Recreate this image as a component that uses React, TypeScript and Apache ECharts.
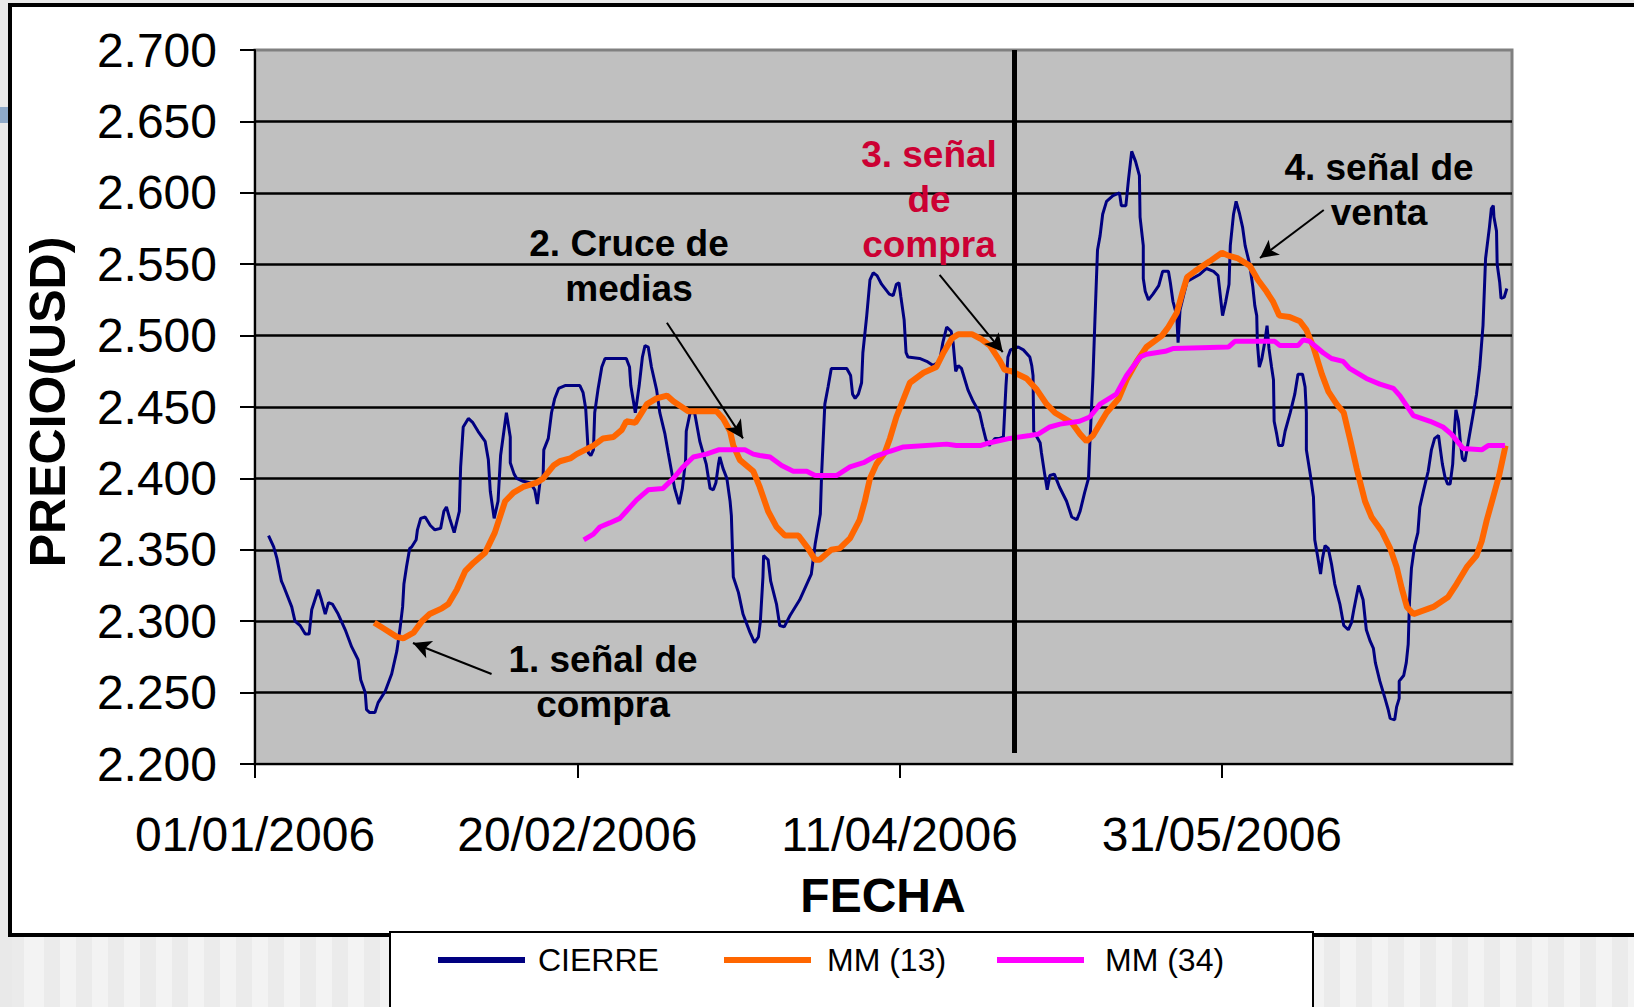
import React, { useEffect, useRef } from "react";
import * as echarts from "echarts";

// x = days since 01/01/2006, y = price (USD)
const cierre: [number, number][] = [
  [2.1, 2.36], [2.9, 2.352], [3.4, 2.344], [4.1, 2.328], [4.4, 2.325], [5.7, 2.31], [6.2, 2.3], [7.0, 2.297],
  [7.8, 2.291], [8.4, 2.291], [8.8, 2.308], [9.3, 2.315], [9.8, 2.322], [10.3, 2.315], [10.9, 2.305], [11.4, 2.313],
  [12.0, 2.312], [12.9, 2.305], [14.0, 2.294], [15.0, 2.282], [16.0, 2.273], [16.4, 2.259], [17.1, 2.25], [17.3, 2.238],
  [17.8, 2.236], [18.6, 2.236], [19.1, 2.243], [20.2, 2.251], [21.2, 2.263], [22.0, 2.279], [22.5, 2.295], [22.9, 2.31],
  [23.1, 2.326], [23.5, 2.338], [24.0, 2.351], [24.3, 2.352], [25.0, 2.357], [25.2, 2.364], [25.7, 2.372], [26.4, 2.373],
  [27.2, 2.367], [27.9, 2.364], [28.8, 2.365], [29.3, 2.377], [29.7, 2.38], [30.2, 2.372], [30.9, 2.362], [31.7, 2.377],
  [31.9, 2.408], [32.3, 2.436], [33.1, 2.442], [33.8, 2.439], [34.6, 2.433], [35.7, 2.426], [36.2, 2.413], [36.5, 2.391],
  [37.1, 2.372], [37.7, 2.384], [38.1, 2.416], [39.0, 2.446], [39.6, 2.429], [39.6, 2.411], [40.2, 2.403], [40.6, 2.4],
  [41.6, 2.398], [42.7, 2.397], [43.4, 2.392], [43.8, 2.382], [44.2, 2.397], [44.7, 2.402], [44.8, 2.42], [45.5, 2.428],
  [46.0, 2.446], [46.5, 2.456], [47.1, 2.463], [48.1, 2.465], [50.4, 2.465], [50.9, 2.46], [51.3, 2.449], [51.7, 2.418],
  [52.1, 2.416], [52.5, 2.42], [52.7, 2.446], [53.2, 2.462], [53.8, 2.478], [54.3, 2.484], [57.6, 2.484], [58.1, 2.478],
  [58.3, 2.465], [59.0, 2.446], [59.6, 2.465], [60.1, 2.485], [60.5, 2.493], [61.0, 2.492], [61.5, 2.478], [62.3, 2.462],
  [62.8, 2.446], [63.6, 2.431], [64.1, 2.418], [65.1, 2.393], [65.8, 2.382], [66.3, 2.393], [66.8, 2.413], [66.9, 2.433],
  [67.5, 2.446], [68.2, 2.446], [69.0, 2.426], [70.0, 2.41], [70.6, 2.393], [71.1, 2.392], [71.5, 2.397], [71.9, 2.41],
  [72.1, 2.415], [72.6, 2.407], [73.2, 2.4], [73.7, 2.384], [73.9, 2.374], [74.2, 2.331], [75.0, 2.32], [75.7, 2.305],
  [76.8, 2.292], [77.5, 2.285], [78.1, 2.289], [78.4, 2.3], [78.8, 2.331], [78.9, 2.346], [79.6, 2.343], [80.0, 2.328],
  [80.9, 2.312], [81.4, 2.297], [82.1, 2.296], [83.0, 2.304], [84.5, 2.315], [85.6, 2.326], [86.3, 2.333], [86.9, 2.354],
  [87.7, 2.375], [87.9, 2.403], [88.4, 2.452], [88.9, 2.464], [89.4, 2.477], [91.8, 2.477], [92.4, 2.472], [92.7, 2.459],
  [93.1, 2.456], [93.6, 2.459], [94.1, 2.467], [94.3, 2.488], [94.9, 2.514], [95.4, 2.539], [95.9, 2.544], [96.5, 2.542],
  [97.2, 2.536], [98.4, 2.529], [99.0, 2.528], [99.5, 2.536], [99.9, 2.537], [100.2, 2.527], [100.7, 2.511], [101.0, 2.488],
  [101.3, 2.485], [103.1, 2.484], [104.2, 2.482], [105.2, 2.479], [106.2, 2.482], [106.7, 2.495], [107.3, 2.506], [108.0, 2.503],
  [108.3, 2.495], [108.7, 2.475], [109.1, 2.479], [109.6, 2.477], [110.6, 2.462], [111.4, 2.454], [112.4, 2.446], [112.9, 2.436],
  [113.4, 2.427], [113.9, 2.423], [114.8, 2.428], [115.5, 2.428], [116.1, 2.429], [116.5, 2.465], [116.8, 2.485], [117.2, 2.49],
  [118.4, 2.492], [119.2, 2.49], [120.2, 2.485], [120.5, 2.479], [120.7, 2.472], [120.8, 2.433], [121.8, 2.425], [122.0, 2.418],
  [122.5, 2.403], [122.9, 2.392], [123.3, 2.402], [124.0, 2.403], [124.8, 2.394], [125.9, 2.384], [126.7, 2.373], [127.5, 2.371],
  [128.0, 2.377], [128.7, 2.39], [129.3, 2.4], [129.5, 2.423], [130.0, 2.472], [130.3, 2.511], [130.7, 2.56], [131.1, 2.57],
  [131.5, 2.585], [132.1, 2.594], [133.1, 2.598], [134.1, 2.6], [134.4, 2.591], [135.1, 2.591], [135.5, 2.609], [136.0, 2.629],
  [136.6, 2.622], [137.2, 2.612], [137.3, 2.583], [137.8, 2.563], [137.8, 2.54], [138.1, 2.531], [138.6, 2.525], [139.3, 2.529],
  [140.2, 2.535], [140.8, 2.545], [141.7, 2.545], [142.0, 2.537], [142.4, 2.524], [143.0, 2.514], [143.2, 2.495], [143.5, 2.518],
  [144.1, 2.529], [144.6, 2.538], [146.6, 2.543], [147.6, 2.547], [148.7, 2.545], [149.4, 2.542], [149.8, 2.526], [150.1, 2.514],
  [150.6, 2.524], [151.1, 2.536], [151.3, 2.563], [151.8, 2.585], [152.2, 2.594], [152.7, 2.586], [153.2, 2.576], [153.6, 2.563],
  [154.3, 2.55], [154.8, 2.534], [155.1, 2.521], [155.4, 2.514], [155.5, 2.495], [155.8, 2.478], [156.2, 2.484], [156.7, 2.497],
  [157.0, 2.507], [157.3, 2.491], [157.7, 2.478], [158.0, 2.469], [158.1, 2.44], [158.5, 2.431], [158.8, 2.423], [159.4, 2.423],
  [159.8, 2.433], [160.6, 2.446], [161.3, 2.459], [161.8, 2.473], [162.5, 2.473], [162.9, 2.464], [163.1, 2.446], [163.1, 2.42],
  [163.7, 2.403], [164.2, 2.387], [164.4, 2.357], [164.9, 2.344], [165.3, 2.333], [165.6, 2.344], [166.0, 2.353], [166.5, 2.351],
  [167.0, 2.34], [167.5, 2.326], [168.3, 2.312], [168.9, 2.297], [169.6, 2.294], [170.1, 2.299], [170.5, 2.309], [171.2, 2.325],
  [171.9, 2.315], [172.4, 2.294], [173.0, 2.286], [173.5, 2.281], [173.8, 2.271], [174.5, 2.258], [175.3, 2.246], [175.8, 2.238],
  [176.1, 2.232], [176.8, 2.231], [177.1, 2.24], [177.5, 2.246], [177.5, 2.258], [178.2, 2.262], [178.6, 2.271], [178.9, 2.284],
  [179.1, 2.314], [179.4, 2.337], [179.9, 2.353], [180.4, 2.362], [180.7, 2.38], [181.3, 2.392], [182.0, 2.405], [182.5, 2.42],
  [183.0, 2.428], [183.6, 2.43], [183.9, 2.42], [184.2, 2.41], [184.6, 2.401], [185.0, 2.396], [185.4, 2.396], [185.8, 2.41],
  [186.1, 2.436], [186.3, 2.448], [186.7, 2.44], [187.0, 2.425], [187.3, 2.414], [187.7, 2.412], [188.2, 2.425], [188.7, 2.438],
  [189.5, 2.459], [190.0, 2.478], [190.5, 2.507], [190.9, 2.554], [191.5, 2.576], [191.8, 2.589], [192.1, 2.591], [192.2, 2.583],
  [192.6, 2.573], [192.7, 2.55], [193.1, 2.537], [193.3, 2.526], [193.8, 2.527], [194.2, 2.533],
];

const mm13: [number, number][] = [
  [18.5, 2.299], [19.9, 2.295], [22.0, 2.289], [23.0, 2.288], [24.6, 2.292], [25.9, 2.3], [27.1, 2.305], [29.0, 2.309],
  [30.0, 2.312], [31.3, 2.322], [32.6, 2.335], [33.9, 2.341], [35.7, 2.348], [37.2, 2.362], [38.8, 2.384], [40.1, 2.39],
  [41.6, 2.394], [43.7, 2.397], [44.7, 2.4], [46.3, 2.409], [47.3, 2.412], [48.9, 2.414], [49.9, 2.417], [51.2, 2.42],
  [52.5, 2.423], [54.0, 2.428], [55.6, 2.429], [56.9, 2.434], [57.6, 2.44], [59.0, 2.439], [59.7, 2.444], [60.8, 2.452],
  [62.3, 2.456], [63.9, 2.458], [64.9, 2.454], [67.2, 2.447], [71.6, 2.447], [72.6, 2.442], [73.7, 2.433], [74.2, 2.423],
  [75.2, 2.413], [77.3, 2.405], [78.3, 2.394], [79.6, 2.377], [80.9, 2.366], [82.2, 2.36], [84.3, 2.36], [85.8, 2.351],
  [86.9, 2.343], [87.6, 2.343], [89.4, 2.35], [90.7, 2.351], [92.3, 2.358], [93.8, 2.371], [94.6, 2.384], [95.4, 2.4],
  [96.4, 2.41], [97.7, 2.418], [98.5, 2.428], [99.5, 2.443], [101.6, 2.467], [103.7, 2.474], [105.7, 2.478], [106.8, 2.488],
  [108.1, 2.498], [109.1, 2.501], [111.2, 2.501], [112.5, 2.498], [114.0, 2.493], [115.6, 2.482], [116.3, 2.476], [117.4, 2.475],
  [119.7, 2.47], [121.3, 2.462], [122.8, 2.452], [124.1, 2.446], [126.7, 2.439], [128.0, 2.431], [129.0, 2.426], [130.0, 2.43],
  [132.1, 2.446], [134.0, 2.456], [135.2, 2.469], [136.8, 2.482], [138.3, 2.492], [140.7, 2.5], [141.7, 2.506], [143.0, 2.516],
  [143.8, 2.529], [144.6, 2.541], [145.8, 2.545], [148.1, 2.552], [150.0, 2.558], [151.0, 2.556], [152.5, 2.554], [154.3, 2.549],
  [155.6, 2.539], [156.9, 2.531], [157.9, 2.524], [158.9, 2.514], [160.5, 2.513], [162.1, 2.51], [163.1, 2.504], [164.2, 2.492],
  [165.5, 2.473], [166.5, 2.461], [167.8, 2.452], [168.9, 2.446], [169.9, 2.427], [170.9, 2.407], [172.2, 2.384], [173.2, 2.373],
  [174.8, 2.363], [176.1, 2.351], [177.1, 2.338], [177.9, 2.323], [178.7, 2.31], [179.7, 2.305], [182.8, 2.31], [185.1, 2.317],
  [186.4, 2.326], [188.0, 2.338], [189.5, 2.346], [190.3, 2.356], [191.1, 2.371], [191.9, 2.384], [193.0, 2.402], [194.0, 2.423],
];

const mm34: [number, number][] = [
  [51.0, 2.357], [52.5, 2.361], [53.5, 2.366], [55.1, 2.369], [56.6, 2.372], [57.6, 2.377], [59.2, 2.385], [61.0, 2.392],
  [63.3, 2.393], [64.9, 2.4], [66.4, 2.408], [68.0, 2.415], [70.0, 2.417], [71.9, 2.42], [76.0, 2.42], [77.3, 2.417],
  [78.3, 2.416], [79.9, 2.415], [81.7, 2.409], [83.5, 2.405], [85.6, 2.405], [86.9, 2.402], [90.2, 2.402], [92.3, 2.408],
  [94.4, 2.411], [96.0, 2.415], [98.5, 2.419], [100.6, 2.422], [107.3, 2.424], [108.8, 2.423], [112.5, 2.423], [114.0, 2.425],
  [117.1, 2.428], [120.2, 2.43], [121.5, 2.431], [123.3, 2.436], [124.9, 2.438], [127.9, 2.44], [129.5, 2.443], [131.1, 2.452],
  [133.6, 2.459], [135.2, 2.472], [137.3, 2.485], [138.3, 2.487], [141.2, 2.489], [142.5, 2.491], [151.0, 2.492], [152.0, 2.496],
  [158.2, 2.496], [159.0, 2.493], [161.8, 2.493], [162.6, 2.497], [163.6, 2.496], [165.7, 2.488], [167.0, 2.484], [168.8, 2.482],
  [169.8, 2.477], [172.4, 2.47], [174.5, 2.466], [176.6, 2.463], [177.6, 2.458], [179.7, 2.444], [182.3, 2.44], [184.3, 2.436],
  [185.6, 2.431], [187.4, 2.421], [190.3, 2.42], [191.3, 2.423], [193.9, 2.423],
];

const seriesNames = ["CIERRE", "MM (13)", "MM (34)"];
const xTickDays = [0, 50, 100, 150];
const xMaxDay = 195;
const yMin = 2.2;
const yMax = 2.7;
const yStep = 0.05;

// annotations (data coordinates)
const signalLineDay = 117.8;
const signalLineFrom = 2.7;
const signalLineTo = 2.2077;
const arrows: [[number, number], [number, number]][] = [
  [[36.7, 2.263], [24.5, 2.2847]],
  [[63.9, 2.509], [75.7, 2.428]],
  [[106.2, 2.5425], [116.0, 2.4885]],
  [[165.8, 2.588], [155.9, 2.5543]],
];
const annotationTexts = [
  "1. señal de\ncompra",
  "2. Cruce de\nmedias",
  "3. señal\nde\ncompra",
  "4. señal de\nventa",
];

const FONT = '"Liberation Sans", Arial, Helvetica, sans-serif';

const pad = (n: number) => (n < 10 ? "0" + n : "" + n);
const fmtDate = (v: number) => {
  const d = new Date(2006, 0, 1 + Math.round(v));
  return pad(d.getDate()) + "/" + pad(d.getMonth() + 1) + "/" + d.getFullYear();
};

export default function App() {
  const ref = useRef<HTMLDivElement>(null);

  useEffect(() => {
    if (!ref.current) return;
    const chart = echarts.init(ref.current, undefined, { renderer: "svg" });
    const colors = ["#000080", "#FF6600", "#FF00FF"];
    const widths = [3, 6, 5];
    const datasets = [cierre, mm13, mm34];
    const legendLefts = [438, 724, 997];
    const legendTextPad = [8, 11, 16];

    const markData: any[] = [
      [
        { coord: [signalLineDay, signalLineFrom], symbol: "none" },
        { coord: [signalLineDay, signalLineTo], symbol: "none", lineStyle: { width: 5, color: "#000", type: "solid" } },
      ],
      ...arrows.map((a) => [
        { coord: a[0], symbol: "none" },
        { coord: a[1], symbol: "arrow", symbolSize: [14, 18], lineStyle: { width: 2, color: "#000", type: "solid" } },
      ]),
    ];

    const series: any[] = datasets.map((d, i) => ({
      name: seriesNames[i],
      type: "line",
      data: d,
      showSymbol: false,
      symbol: "none",
      silent: true,
      lineStyle: { color: colors[i], width: widths[i] },
      itemStyle: { color: colors[i] },
      z: 2 + i,
    }));
    series.push({
      name: "anotaciones",
      type: "line",
      data: [],
      silent: true,
      z: 10,
      markLine: {
        silent: true,
        symbol: ["none", "none"],
        label: { show: false },
        emphasis: { disabled: true },
        lineStyle: { color: "#000", width: 2, type: "solid" },
        data: markData,
      },
    });

    const annPos = [
      { x: 603, y: 682, color: "#000" },
      { x: 629, y: 266, color: "#000" },
      { x: 929, y: 199, color: "#CC0033" },
      { x: 1379, y: 190, color: "#000" },
    ];

    chart.setOption({
      animation: false,
      backgroundColor: "transparent",
      grid: {
        left: 255,
        top: 50,
        width: 1257,
        height: 714,
        show: true,
        backgroundColor: "#C0C0C0",
        borderColor: "#808080",
        borderWidth: 3,
      },
      xAxis: {
        type: "value",
        min: 0,
        max: xMaxDay,
        interval: 50,
        axisLine: { show: true, onZero: false, lineStyle: { color: "#000", width: 2 } },
        axisTick: { show: true, length: 14, lineStyle: { color: "#000", width: 2 }, customValues: xTickDays },
        axisLabel: {
          margin: 46,
          fontSize: 48,
          fontFamily: FONT,
          color: "#000",
          formatter: (v: number) => fmtDate(v),
          customValues: xTickDays,
        },
        splitLine: { show: false },
      },
      yAxis: {
        type: "value",
        min: yMin,
        max: yMax,
        interval: yStep,
        axisLine: { show: true, lineStyle: { color: "#000", width: 2 } },
        axisTick: { show: true, length: 15, lineStyle: { color: "#000", width: 2 } },
        axisLabel: {
          margin: 38,
          fontSize: 48,
          fontFamily: FONT,
          color: "#000",
          formatter: (v: number) => v.toFixed(3),
        },
        splitLine: { show: true, showMaxLine: false, showMinLine: false, lineStyle: { color: "#000", width: 2.5 } },
      },
      legend: seriesNames.map((n, i) => ({
        data: [n],
        left: legendLefts[i],
        top: 944,
        padding: 0,
        icon: "rect",
        itemWidth: 87,
        itemHeight: 6,
        selectedMode: false,
        textStyle: { fontSize: 32, fontFamily: FONT, color: "#000", padding: [0, 0, 0, legendTextPad[i]] },
      })),
      graphic: [
        ...annotationTexts.map((t, i) => ({
          type: "text",
          x: annPos[i].x,
          y: annPos[i].y,
          z: 100,
          silent: true,
          style: {
            text: t,
            fill: annPos[i].color,
            font: "bold 37px " + FONT,
            textAlign: "center",
            verticalAlign: "middle",
            lineHeight: 45,
          },
        })),
        {
          type: "text",
          x: 48,
          y: 402,
          rotation: Math.PI / 2,
          silent: true,
          style: {
            text: "PRECIO(USD)",
            fill: "#000",
            font: "bold 50px " + FONT,
            textAlign: "center",
            verticalAlign: "middle",
          },
        },
        {
          type: "text",
          x: 883,
          y: 895,
          silent: true,
          style: {
            text: "FECHA",
            fill: "#000",
            font: "bold 48px " + FONT,
            textAlign: "center",
            verticalAlign: "middle",
          },
        },
      ],
      series,
    });
    return () => chart.dispose();
  }, []);

  return (
    <div
      style={{
        position: "fixed",
        left: 0,
        top: 0,
        width: 1634,
        height: 1007,
        overflow: "hidden",
        background: "#e9e9e9",
      }}
    >
      <div
        style={{
          position: "absolute",
          left: 12,
          top: 937,
          width: 1700,
          height: 80,
          backgroundImage:
            "repeating-linear-gradient(90deg, #f3f3f3 0px, #f3f3f3 16px, #ebebeb 16px, #ebebeb 32px)",
          backgroundPosition: "16px 0",
        }}
      />
      <div style={{ position: "absolute", left: 0, top: 107, width: 8, height: 16, background: "#8EA9C8" }} />
      <div
        style={{
          position: "absolute",
          left: 8,
          top: 3,
          width: 1700,
          height: 934,
          boxSizing: "border-box",
          border: "4px solid #000",
          background: "#fff",
        }}
      />
      <div
        style={{
          position: "absolute",
          left: 389,
          top: 931,
          width: 925,
          height: 120,
          boxSizing: "border-box",
          border: "2px solid #000",
          background: "#fff",
        }}
      />
      <div ref={ref} style={{ position: "absolute", left: 0, top: 0, width: 1634, height: 1007 }} />
    </div>
  );
}
